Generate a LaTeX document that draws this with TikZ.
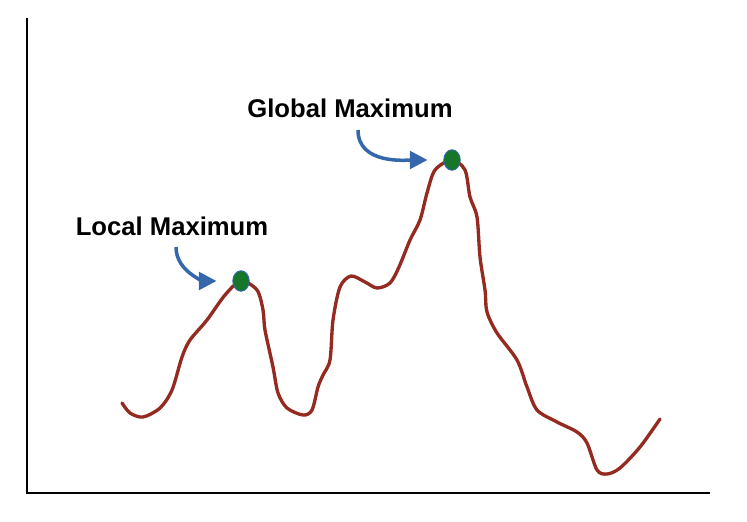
\documentclass[tikz,border=0pt]{standalone}
\usepackage{fontspec}
\setmainfont{Liberation Sans}
\usetikzlibrary{shapes.geometric, arrows.meta, positioning}
\definecolor{curvered}{RGB}{148, 42, 32}
\definecolor{arrowblue}{RGB}{52, 104, 170}
\definecolor{dotgreen}{RGB}{22, 118, 42}
\tikzset{
    axis/.style={line width=0.9pt, black},
    landscape/.style={line width=1.9pt, color=curvered, smooth, line cap=round},
    maxdot/.style={ellipse, minimum width=0.33cm, minimum height=0.41cm, inner sep=0pt,
        fill=dotgreen, draw=arrowblue, line width=0.5pt},
    maxlabel/.style={font=\fontsize{14.6}{17}\selectfont\bfseries, inner sep=0pt},
    pointer/.style={-{Triangle[length=10pt,width=10pt]}, line width=2pt, color=arrowblue,
        shorten >=9pt},
}
\begin{document}
\begin{tikzpicture}[x=0.02cm, y=-0.02cm]
    \useasboundingbox (0,0) rectangle (747,521);

    % axes
    \coordinate (top) at (27,18);
    \coordinate (origin) at (27,493);
    \coordinate (right) at (710,493);
    \draw[axis] (top) -- (origin) -- (right);

    % the function
    \draw[landscape] plot coordinates {(122,403) (130,413) (143,417) (160,408) (172,390)
        (182,357) (190,340) (207,320) (225,295) (241,281) (257,290) (263,310) (265,330)
        (273,367) (278,393) (287,408) (303,415) (312,410) (318,387) (323,375) (330,360)
        (333,320) (340,287) (351,276) (365,282) (377,288) (390,283) (399,267) (410,240)
        (420,220) (427,193) (435,170) (452,160) (465,170) (470,197) (477,217) (480,257)
        (485,290) (487,312) (497,333) (517,360) (527,387) (537,410) (557,422) (577,432)
        (587,443) (597,470) (607,474) (620,468) (640,447) (660,419)};

    \node[maxdot] (localdot) at (241,281) {};
    \node[maxdot] (globaldot) at (452,160) {};

    \node[maxlabel] (locallabel) at (172,226) {Local Maximum};
    \node[maxlabel] (globallabel) at (350,108) {Global Maximum};

    \coordinate (localtail) at (176,247);
    \coordinate (globaltail) at (358,130);
    \draw[pointer] (localtail) to[out=-90, in=180] (localdot);
    \draw[pointer] (globaltail) to[out=-90, in=180] (globaldot);
\end{tikzpicture}
\end{document}
